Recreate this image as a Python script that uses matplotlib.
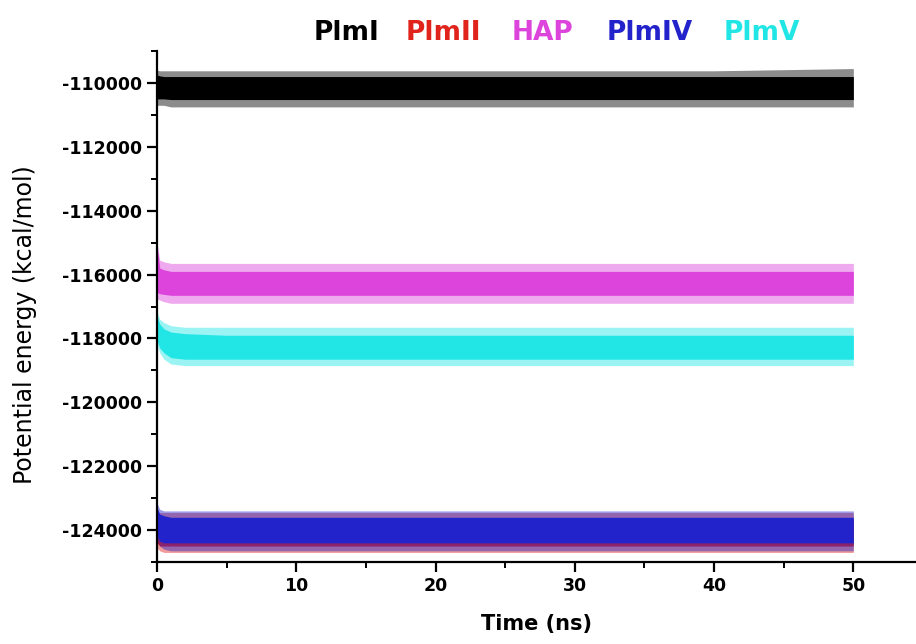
import numpy as np
import matplotlib.pyplot as plt

t = [0, 0.2, 0.5, 1, 2, 5, 10, 20, 30, 40, 50]

# core band (dense part) and outer fringe (spikes), kcal/mol
plm1_core_hi = [-109750, -109780, -109800, -109800, -109800, -109800, -109800, -109800, -109800, -109800, -109800]
plm1_core_lo = [-110500, -110500, -110500, -110520, -110520, -110520, -110520, -110520, -110520, -110520, -110520]
plm1_hi = [-109600, -109620, -109620, -109620, -109620, -109620, -109620, -109620, -109620, -109620, -109550]
plm1_lo = [-110700, -110700, -110700, -110750, -110750, -110750, -110750, -110750, -110750, -110750, -110750]

hap_core_hi = [-115100, -115800, -115850, -115900, -115900, -115900, -115900, -115900, -115900, -115900, -115900]
hap_core_lo = [-116550, -116600, -116620, -116650, -116650, -116650, -116650, -116650, -116650, -116650, -116650]
hap_hi = [-115000, -115550, -115600, -115650, -115650, -115650, -115650, -115650, -115650, -115650, -115650]
hap_lo = [-116750, -116800, -116850, -116900, -116900, -116900, -116900, -116900, -116900, -116900, -116900]

plm5_core_hi = [-117300, -117550, -117700, -117800, -117850, -117900, -117900, -117900, -117900, -117900, -117900]
plm5_core_lo = [-118050, -118300, -118450, -118600, -118650, -118650, -118650, -118650, -118650, -118650, -118650]
plm5_hi = [-117150, -117400, -117500, -117600, -117650, -117650, -117650, -117650, -117650, -117650, -117650]
plm5_lo = [-118200, -118450, -118650, -118800, -118850, -118850, -118850, -118850, -118850, -118850, -118850]

plm2_core_hi = [-123700, -123650, -123650, -123650, -123650, -123650, -123650, -123650, -123650, -123650, -123650]
plm2_core_lo = [-124400, -124500, -124500, -124500, -124500, -124500, -124500, -124500, -124500, -124500, -124500]
plm2_hi = [-123500, -123450, -123450, -123450, -123450, -123450, -123450, -123450, -123450, -123450, -123450]
plm2_lo = [-124550, -124650, -124700, -124700, -124700, -124700, -124700, -124700, -124700, -124700, -124700]

plm4_core_hi = [-123300, -123500, -123550, -123600, -123600, -123600, -123600, -123600, -123600, -123600, -123600]
plm4_core_lo = [-124200, -124350, -124400, -124400, -124400, -124400, -124400, -124400, -124400, -124400, -124400]
plm4_hi = [-123150, -123350, -123400, -123400, -123400, -123400, -123400, -123400, -123400, -123400, -123400]
plm4_lo = [-124350, -124500, -124600, -124650, -124650, -124650, -124650, -124650, -124650, -124650, -124650]

names = ['PlmI', 'PlmII', 'HAP', 'PlmIV', 'PlmV']
colors = ['#000000', '#e0241c', '#dc44dc', '#2323cc', '#22e6e6']

plt.rcParams['font.family'] = ['DejaVu Sans']
plt.rcParams['axes.unicode_minus'] = False

fig = plt.figure(figsize=(9.16, 6.44), dpi=100)
ax = fig.add_axes([0.1714, 0.1273, 0.8286, 0.7935])

series = [
    (plm1_core_hi, plm1_core_lo, plm1_hi, plm1_lo, colors[0]),
    (hap_core_hi, hap_core_lo, hap_hi, hap_lo, colors[2]),
    (plm5_core_hi, plm5_core_lo, plm5_hi, plm5_lo, colors[4]),
    (plm2_core_hi, plm2_core_lo, plm2_hi, plm2_lo, colors[1]),
    (plm4_core_hi, plm4_core_lo, plm4_hi, plm4_lo, colors[3]),
]
for core_hi, core_lo, hi, lo, c in series:
    ax.fill_between(t, lo, hi, color=c, alpha=0.45, linewidth=0)
    ax.fill_between(t, core_lo, core_hi, color=c, linewidth=0)

ax.set_xlim(0, 54.5)
ax.set_ylim(-125000, -109000)
ax.set_xticks(np.arange(0, 51, 10))
ax.set_xticks(np.arange(5, 51, 10), minor=True)
ax.set_yticks(np.arange(-124000, -109000, 2000))
ax.set_yticks(np.arange(-125000, -108999, 2000), minor=True)

for s in ['top', 'right']:
    ax.spines[s].set_visible(False)
for s in ['left', 'bottom']:
    ax.spines[s].set_linewidth(1.6)
ax.tick_params(which='major', direction='out', length=7, width=1.6, labelsize=12.5)
ax.tick_params(which='minor', direction='out', length=4, width=1.4)
for lab in ax.get_xticklabels() + ax.get_yticklabels():
    lab.set_fontweight('bold')

ax.set_xlabel('Time (ns)', fontsize=15, fontweight='bold', labelpad=14)
ax.set_ylabel('Potential energy (kcal/mol)', fontsize=17)
ax.yaxis.set_label_coords(-0.158, 0.465)

# legend drawn as coloured text above the plot
legend_x = [346, 443, 543, 650, 762]
for name, c, x in zip(names, colors, legend_x):
    fig.text(x / 916, 1 - 33 / 644, name, color=c, fontsize=19, fontweight='bold',
             ha='center', va='center')

fig.savefig('out.png', dpi=100)
